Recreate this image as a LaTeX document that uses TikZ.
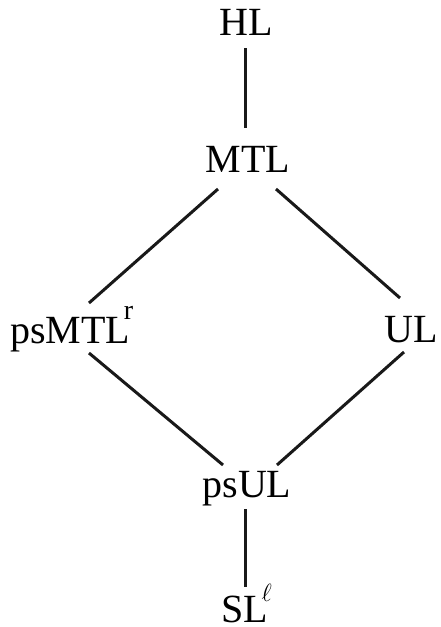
\documentclass[tikz,border=0pt]{standalone}
\usepackage{fontspec}
\setmainfont{Liberation Serif}
\usetikzlibrary{calc}
\tikzset{
  lbl/.style={inner sep=0pt, outer sep=0pt, font=\fontsize{40}{40}\selectfont, text=black},
  edge/.style={line width=3pt, draw=black!90}
}
\begin{document}
\begin{tikzpicture}[x=1pt,y=-1pt]
\useasboundingbox (0,0) rectangle (440,627);
\node[lbl, anchor=base] (HL) at (246,35) {HL};
\node[lbl, anchor=base] (MTL) at (248,172) {MTL};
\node[lbl, anchor=base west] (psMTL) at (10,343) {psMTL\kern-6pt\raisebox{24pt}{\fontsize{28}{28}\selectfont r}};
\node[lbl, anchor=base] (UL) at (411,342) {UL};
\node[lbl, anchor=base] (psUL) at (247,497) {psUL};
\node[lbl, anchor=base west] (SL) at (221,622) {SL\kern-6pt\raisebox{21pt}{\fontsize{31}{31}\selectfont$\ell$}};
\draw[edge] ($(HL.base)+(-1,13)$) -- ($(MTL.base)+(-3,-44)$);
\draw[edge] ($(MTL.base)+(-30,17)$) -- ($(psMTL.base west)+(79,-40)$);
\draw[edge] ($(MTL.base)+(28,17)$) -- ($(UL.base)+(-11,-44)$);
\draw[edge] ($(psMTL.base west)+(79,10)$) -- ($(psUL.base)+(-24,-32)$);
\draw[edge] ($(UL.base)+(-7,10)$) -- ($(psUL.base)+(30,-32)$);
\draw[edge] ($(psUL.base)+(-2,12)$) -- ($(SL.base west)+(24,-35)$);
\end{tikzpicture}
\end{document}
